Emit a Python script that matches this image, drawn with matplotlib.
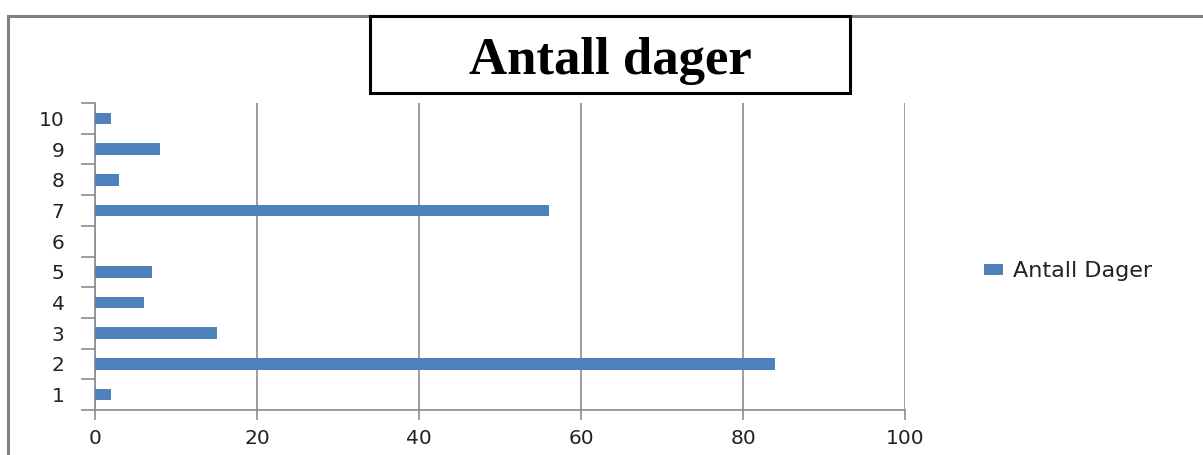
import matplotlib
matplotlib.use("Agg")
import matplotlib.pyplot as plt
from matplotlib.patches import Rectangle

categories = [1, 2, 3, 4, 5, 6, 7, 8, 9, 10]
antall_dager = [2, 84, 15, 6, 7, 0, 56, 3, 8, 2]
x_ticks = [0, 20, 40, 60, 80, 100]

W, H = 1203, 455
fig = plt.figure(figsize=(W / 100, H / 100), dpi=100)

def fx(px):
    return px / W

def fy(py):
    return 1 - py / H

# Outer chart frame (gray), running off the right and bottom edges
fig.patches.append(Rectangle((fx(8), fy(470)), fx(1230) - fx(8), fy(16) - fy(470),
                             transform=fig.transFigure, fill=False,
                             edgecolor="#808080", linewidth=2.2, zorder=1))

ax = fig.add_axes([fx(95), fy(410), fx(905) - fx(95), fy(103) - fy(410)])
bar_color = "#4F81BD"
ax.barh(categories, antall_dager, height=0.38, color=bar_color,
        label="Antall Dager", zorder=3)

ax.set_xlim(0, 100)
ax.set_ylim(0.5, 10.5)
ax.set_xticks(x_ticks)
ax.set_xticklabels([str(t) for t in x_ticks])
ax.set_yticks(categories)
ax.set_yticks([c + 0.5 for c in [0] + categories], minor=True)
ax.tick_params(axis="y", which="major", length=0, pad=22, labelsize=14.5, labelcolor="#222222")
ax.tick_params(axis="y", which="minor", length=10, width=1.2, color="#8c8c8c")
ax.tick_params(axis="x", which="major", length=7, width=1.2, color="#8c8c8c",
               pad=7, labelsize=14.5, labelcolor="#222222")

ax.grid(axis="x", color="#8c8c8c", linewidth=1.2, zorder=0)
for side in ["top", "right"]:
    ax.spines[side].set_visible(False)
for side in ["left", "bottom"]:
    ax.spines[side].set_color("#8c8c8c")
    ax.spines[side].set_linewidth(1.2)

leg = fig.legend(loc="center left", bbox_to_anchor=(fx(984), fy(271)), frameon=False,
                 fontsize=16, handlelength=0.85, handleheight=0.38, handletextpad=0.45,
                 borderaxespad=0, borderpad=0)
for t in leg.get_texts():
    t.set_color("#222222")

# Title in a black box
fig.patches.append(Rectangle((fx(370), fy(93)), fx(850) - fx(370), fy(16) - fy(93),
                             transform=fig.transFigure, facecolor="white",
                             edgecolor="black", linewidth=2.2, zorder=5))
fig.text(fx(610), fy(61), "Antall dager", ha="center", va="center",
         fontsize=38, fontweight="bold", family="Liberation Serif", zorder=6)

fig.savefig("out.png", dpi=100, facecolor="white")
